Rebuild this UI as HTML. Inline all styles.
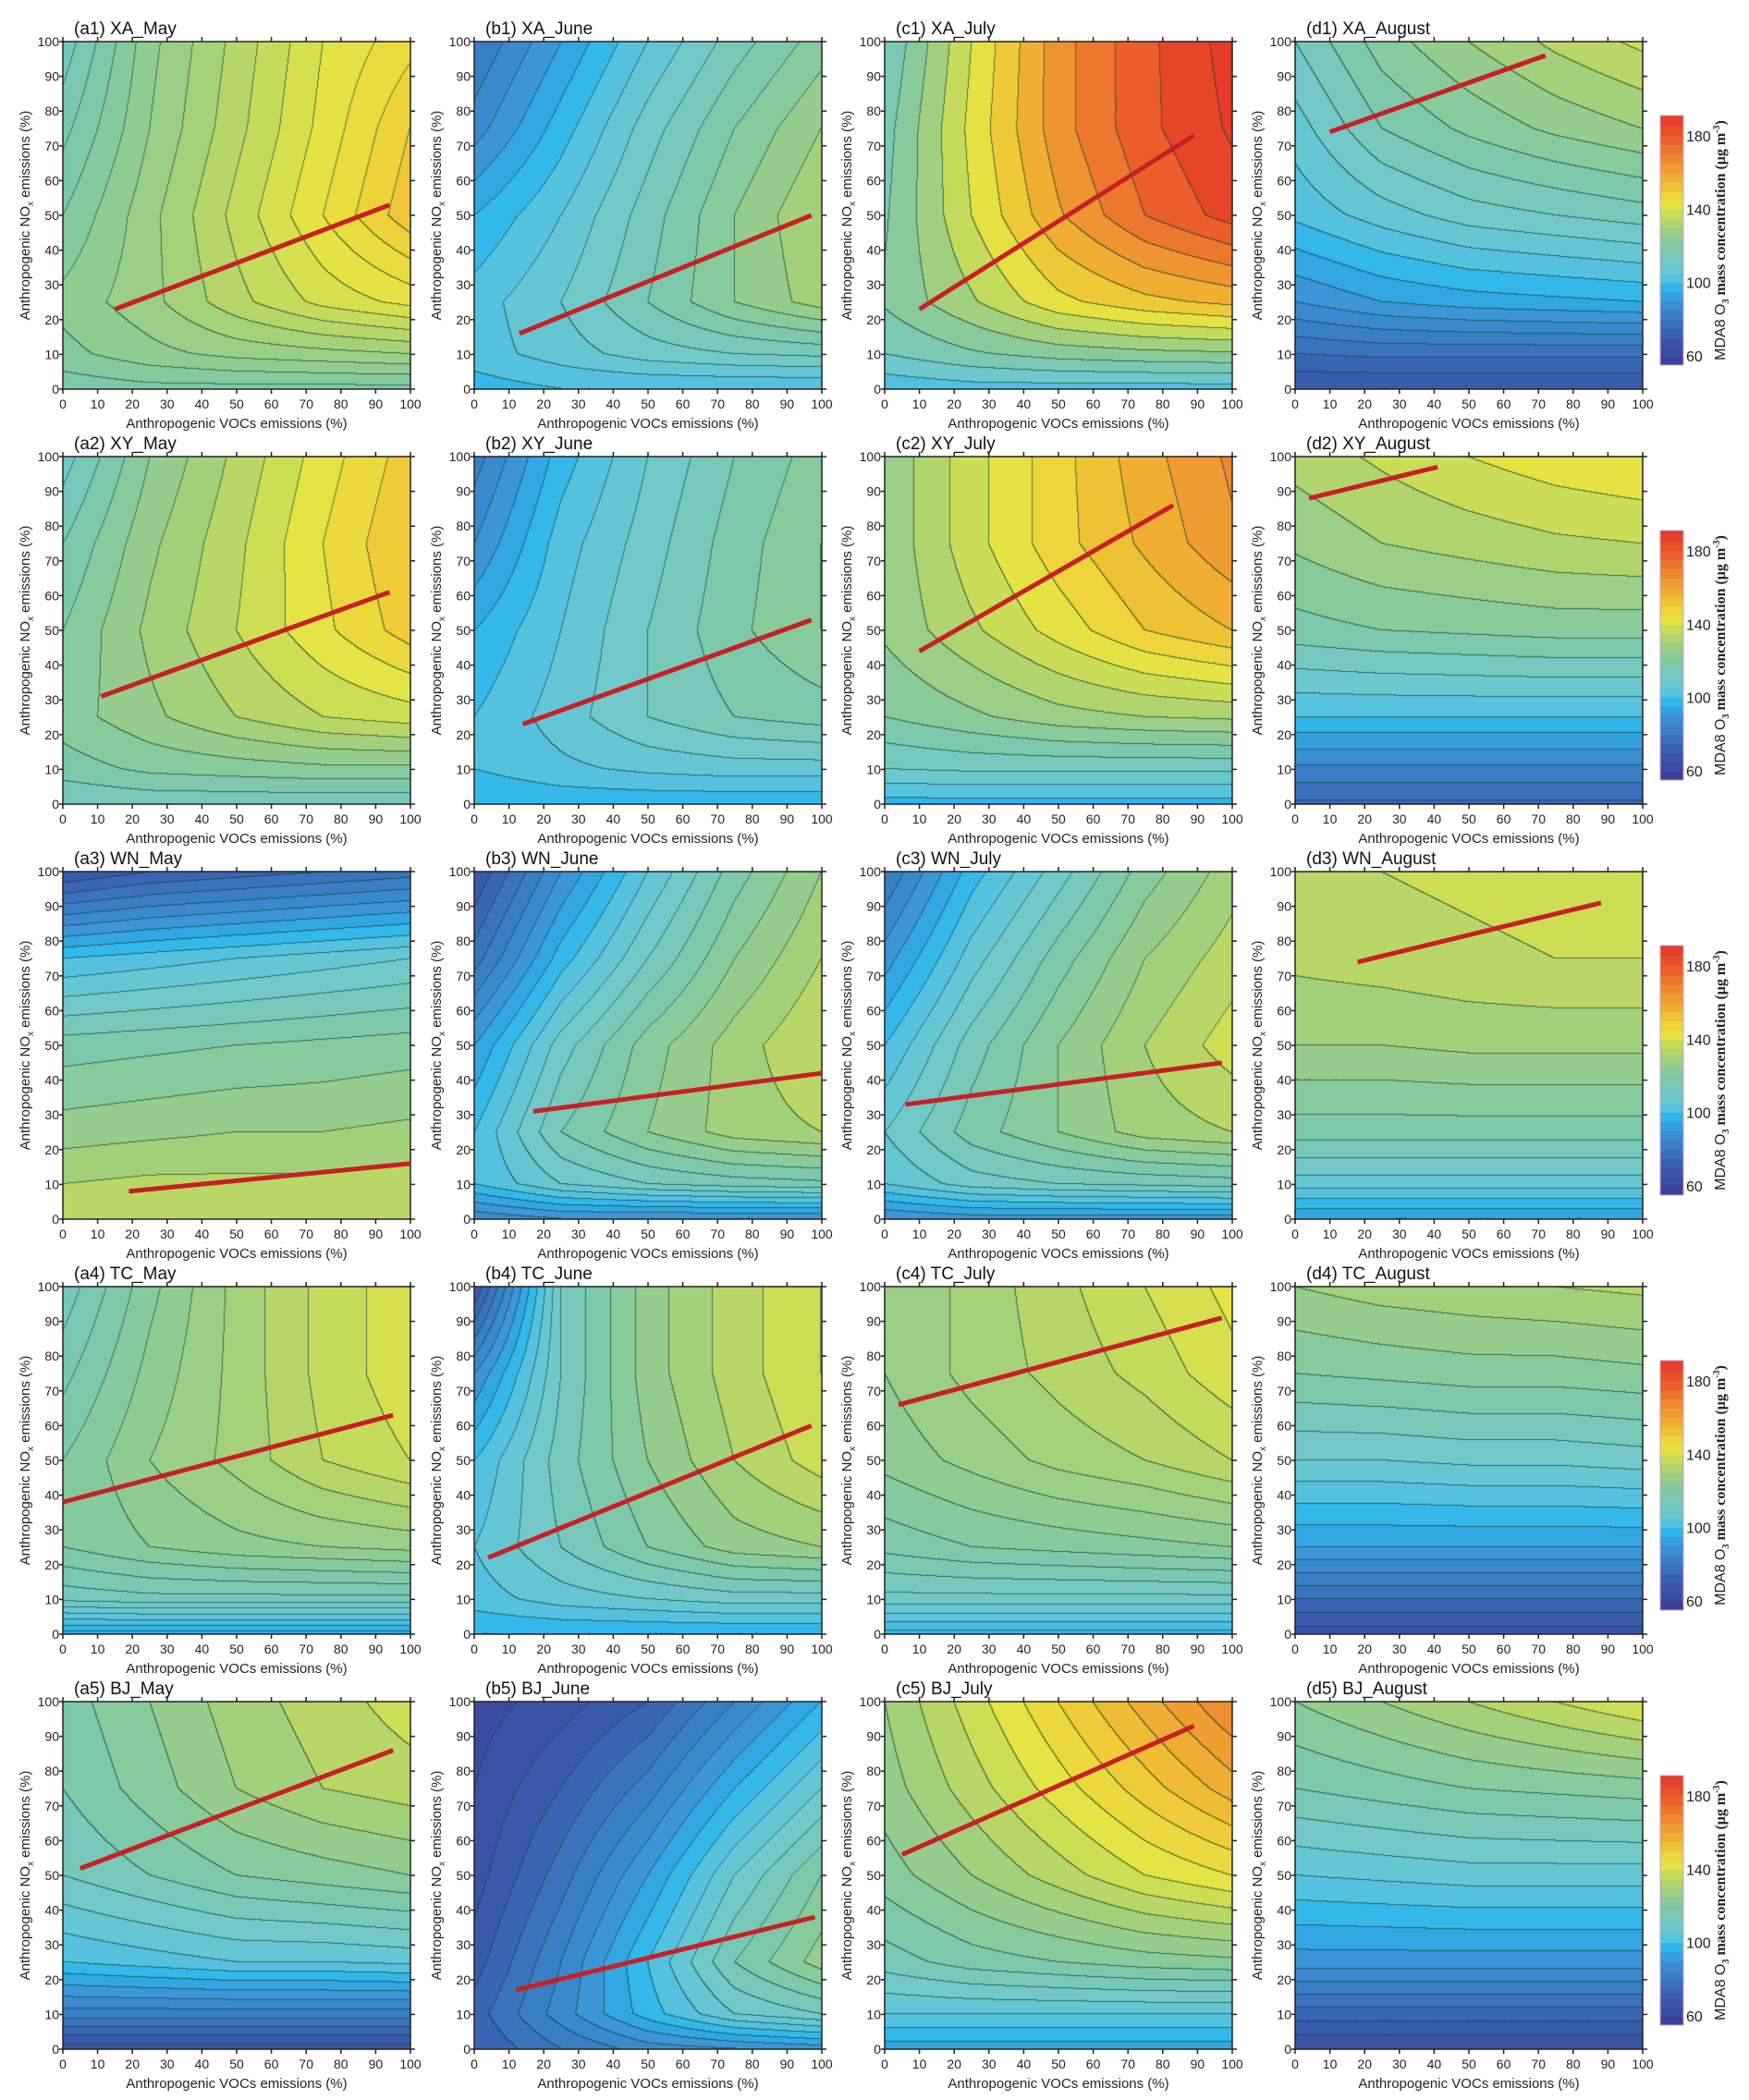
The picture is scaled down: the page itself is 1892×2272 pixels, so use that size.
<!DOCTYPE html>
<html><head><meta charset="utf-8"><style>
html,body{margin:0;padding:0;background:#fff;}
#wrap{position:relative;width:1892px;height:2272px;overflow:hidden;font-family:"Liberation Sans",sans-serif;}
canvas{position:absolute;}
svg{position:absolute;left:0;top:0;}
</style></head><body>
<div id="wrap"></div>
<script>
// ---- data ----
const panelTitles=["(a1) XA_May","(b1) XA_June","(c1) XA_July","(d1) XA_August",
"(a2) XY_May","(b2) XY_June","(c2) XY_July","(d2) XY_August",
"(a3) WN_May","(b3) WN_June","(c3) WN_July","(d3) WN_August",
"(a4) TC_May","(b4) TC_June","(c4) TC_July","(d4) TC_August",
"(a5) BJ_May","(b5) BJ_June","(c5) BJ_July","(d5) BJ_August"];
const vocGrid=[0,25,50,75,100];
const noxGridTopDown=[100,75,50,25,10,0];
// grids: rows n=100,75,50,25,10,0 ; cols v=0,25,50,75,100
const a1=[[112,125,133,141,146],[116,126,134,142,150],[120,128,136,144,152],[124,128,134,139,142],[122,125,127,128,129],[118,119,119,119,119]];
const b1=[[80,92,104,114,122],[86,98,110,120,128],[96,104,114,124,132],[102,108,116,124,130],[102,106,110,112,113],[98,100,100,100,100]];
const c1=[[112,140,165,180,192],[116,142,165,180,190],[118,140,160,175,185],[120,132,145,152,156],[112,118,122,124,125],[100,102,102,102,102]];
const d1=[[112,122,128,133,137],[106,116,121,125,128],[101,106,110,112,114],[88,92,94,95,96],[76,77,77,77,77],[68,68,68,68,68]];
const a2=[[110,124,133,142,150],[116,127,135,144,152],[120,129,136,143,150],[122,127,132,136,138],[118,121,122,123,123],[112,113,113,113,113]];
const b2=[[82,98,108,116,122],[88,102,110,118,124],[96,104,112,119,124],[100,106,112,116,118],[100,103,105,106,106],[96,97,97,97,97]];
const c2=[[126,138,148,158,166],[126,138,148,156,164],[126,134,142,150,155],[120,124,128,130,131],[110,111,111,111,111],[98,98,98,98,98]];
const d2=[[132,136,140,143,145],[126,130,132,134,135],[118,120,121,122,122],[100,100,100,100,100],[84,84,84,84,84],[74,74,74,74,74]];
const a3=[[68,72,74,76,78],[100,102,104,106,108],[118,119,120,121,122],[126,127,128,128,129],[132,133,133,133,134],[134,134,135,135,135]];
const b3=[[68,88,104,118,128],[78,98,112,124,132],[92,110,122,130,136],[100,116,124,130,132],[100,108,112,114,115],[85,88,88,88,88]];
const c3=[[80,98,110,122,130],[90,106,118,128,134],[100,114,124,132,138],[108,118,124,130,132],[104,110,112,113,114],[88,90,90,90,90]];
const d3=[[134,136,137,138,138],[133,134,135,136,136],[128,128,129,129,129],[118,118,118,118,118],[106,106,106,106,106],[92,92,92,92,92]];
const a4=[[112,122,130,136,140],[116,124,130,136,140],[120,126,130,135,138],[120,123,125,126,127],[112,113,113,113,113],[95,95,95,95,95]];
const b4=[[68,112,126,134,140],[88,112,126,134,140],[100,114,124,132,138],[104,112,120,126,128],[102,106,108,110,110],[96,96,96,96,96]];
const c4=[[126,130,134,138,142],[126,130,133,136,140],[124,127,130,132,135],[118,120,121,122,123],[110,110,110,110,110],[98,98,98,98,98]];
const d4=[[128,130,131,132,133],[120,121,122,122,123],[108,108,109,109,110],[92,92,92,92,92],[76,76,76,76,76],[66,66,66,66,66]];
const a5=[[118,124,130,134,138],[116,122,128,132,134],[112,116,120,122,124],[100,102,104,104,105],[82,82,82,82,82],[66,66,66,66,66]];
const b5=[[62,66,72,84,96],[64,72,82,96,108],[66,78,92,108,120],[70,84,100,116,126],[74,86,98,108,112],[72,80,86,88,90]];
const c5=[[128,138,148,158,168],[126,134,142,150,158],[122,128,134,140,144],[114,118,120,122,123],[104,104,104,104,104],[94,94,94,94,94]];
const d5=[[124,128,132,136,140],[116,118,120,121,122],[104,105,106,106,106],[90,90,90,90,90],[74,74,74,74,74],[64,64,64,64,64]];
const grids=[a1,b1,c1,d1,a2,b2,c2,d2,a3,b3,c3,d3,a4,b4,c4,d4,a5,b5,c5,d5];
const bandSteps=[3,4,7,4,4,4,5,5,4,4,4,4,3,4,3,4,4,4,4,4];
// red ridge lines [v1,n1,v2,n2], null = none
const ridgeLines=[[15,23,94,53],[13,16,97,50],[10,23,89,73],[10,74,72,96],
[11,31,94,61],[14,23,97,53],[10,44,83,86],[4,88,41,97],
[19,8,100,16],[17,31,100,42],[6,33,97,45],[18,74,88,91],
[0,38,95,63],[4,22,97,60],[4,66,97,91],null,
[5,52,95,86],[12,17,98,38],[5,56,89,93],null];
const axisTicks=[0,10,20,30,40,50,60,70,80,90,100];
const cbarTicks=[60,100,140,180];

// ---- layout ----
const colLeft=[68,513,957,1401], rowTop=[45,494,943,1392,1841];
const PW=376, PH=376;
const cbX=1796, cbW=25, cbTop0=125, cbH=270, cbMin=55, cbMax=191;
const stops=[[56,[59,63,152]],[70,[58,90,172]],[80,[58,120,192]],[90,[59,149,214]],[97,[43,181,236]],[103,[92,196,220]],[110,[114,200,200]],[120,[128,200,164]],[130,[164,208,124]],[137,[200,220,88]],[142,[228,228,68]],[148,[238,212,58]],[155,[240,184,52]],[165,[238,146,48]],[175,[236,106,44]],[189,[230,58,42]]];
function cmap(v){
  if(v<=stops[0][0])return stops[0][1];
  for(let i=1;i<stops.length;i++){if(v<=stops[i][0]){const a=stops[i-1],b=stops[i];const t=(v-a[0])/(b[0]-a[0]);return [0,1,2].map(k=>a[1][k]+(b[1][k]-a[1][k])*t);}}
  return stops[stops.length-1][1];
}
const nGrid=noxGridTopDown.slice().reverse();
function interp(g,v,n){
  const rows=g.slice().reverse();
  let i=0;while(i<vocGrid.length-2&&v>vocGrid[i+1])i++;
  let j=0;while(j<nGrid.length-2&&n>nGrid[j+1])j++;
  const tx=(v-vocGrid[i])/(vocGrid[i+1]-vocGrid[i]),ty=(n-nGrid[j])/(nGrid[j+1]-nGrid[j]);
  const a=rows[j][i],b=rows[j][i+1],c=rows[j+1][i],d=rows[j+1][i+1];
  return a*(1-tx)*(1-ty)+b*tx*(1-ty)+c*(1-tx)*ty+d*tx*ty;
}
const wrap=document.getElementById('wrap');
const NS='http://www.w3.org/2000/svg';
grids.forEach((g,p)=>{
  const cx=colLeft[p%4], cy=rowTop[Math.floor(p/4)];
  const cv=document.createElement('canvas');
  
  
  cv.width=PW;cv.height=PH;cv.style.left=cx+'px';cv.style.top=cy+'px';
  wrap.appendChild(cv);
  const ctx=cv.getContext('2d');const img=ctx.createImageData(PW,PH);
  const st=bandSteps[p];const band=new Int32Array(PW*PH);
  for(let y=0;y<PH;y++){const n=100*(1-y/(PH-1));for(let x=0;x<PW;x++){const v=100*x/(PW-1);band[y*PW+x]=Math.floor(interp(g,v,n)/st);}}
  for(let y=0;y<PH;y++)for(let x=0;x<PW;x++){
    const k=y*PW+x,b=band[k];let col=cmap((b+0.5)*st);
    const edge=(x<PW-1&&band[k+1]!==b)||(y<PH-1&&band[k+PW]!==b);
    if(edge)col=[col[0]*0.35+10,col[1]*0.35+40,col[2]*0.35+30];
    img.data[k*4]=col[0];img.data[k*4+1]=col[1];img.data[k*4+2]=col[2];img.data[k*4+3]=255;
  }
  ctx.putImageData(img,0,0);
});
// colorbars
for(let r=0;r<5;r++){
  const cv=document.createElement('canvas');
  
  
  cv.width=cbW;cv.height=cbH;cv.style.left=cbX+'px';cv.style.top=(cbTop0+rowTop[r]-rowTop[0])+'px';
  wrap.appendChild(cv);
  const ctx=cv.getContext('2d');
  for(let y=0;y<cbH;y++){const v=cbMax-(cbMax-cbMin)*y/cbH;const vb=Math.floor(v/5)*5+2.5;const c=cmap(vb);ctx.fillStyle=`rgb(${c[0]|0},${c[1]|0},${c[2]|0})`;ctx.fillRect(0,y,cbW,1);}
}
// svg overlay
const svg=document.createElementNS(NS,'svg');
svg.setAttribute('width',1892);svg.setAttribute('height',2272);

wrap.appendChild(svg);
function el(tag,attrs,text){const e=document.createElementNS(NS,tag);for(const k in attrs)e.setAttribute(k,attrs[k]);if(text!==undefined)e.textContent=text;svg.appendChild(e);return e;}
grids.forEach((g,p)=>{
  const cx=colLeft[p%4], cy=rowTop[Math.floor(p/4)];
  const sx=v=>cx+v/100*PW, sy=n=>cy+PH-n/100*PH;
  const fr=el('rect',{x:cx,y:cy,width:PW,height:PH,fill:'none',stroke:'#222','stroke-width':1.5});
  
  axisTicks.forEach(t=>{
    el('line',{x1:sx(t),x2:sx(t),y1:cy+PH,y2:cy+PH+5,stroke:'#222','stroke-width':1.5});
    el('line',{x1:sx(t),x2:sx(t),y1:cy,y2:cy-5,stroke:'#222','stroke-width':1.5});
    el('line',{x1:cx,x2:cx-4,y1:sy(t),y2:sy(t),stroke:'#222','stroke-width':1.5});
    el('line',{x1:cx+PW,x2:cx+PW+5,y1:sy(t),y2:sy(t),stroke:'#222','stroke-width':1.5});
    const xl=el('text',{x:sx(t),y:cy+PH+21,'font-size':14,'text-anchor':'middle',fill:'#222'},String(t));
    
    const yl=el('text',{x:cx-4,y:sy(t)+5,'font-size':14,'text-anchor':'end',fill:'#222'},String(t));
    
  });
  const xt=el('text',{x:cx+PW/2,y:cy+PH+42,'font-size':15,'text-anchor':'middle',fill:'#222'},'Anthropogenic VOCs emissions (%)');
  
  const yt=el('text',{x:0,y:0,'font-size':15,'text-anchor':'middle',fill:'#222',transform:`translate(${cx-36},${cy+PH/2}) rotate(-90)`});
  
  yt.innerHTML='Anthropogenic NO<tspan font-size="10" dy="4">x</tspan><tspan dy="-4"> emissions (%)</tspan>';
  const tt=el('text',{x:cx+12,y:cy-8,'font-size':19,fill:'#111'},panelTitles[p]);
  
  const L=ridgeLines[p];
  if(L){const ln=el('line',{x1:sx(L[0]),y1:sy(L[1]),x2:sx(L[2]),y2:sy(L[3]),stroke:'#c62026','stroke-width':5});
    }
});
for(let r=0;r<5;r++){
  const top=cbTop0+rowTop[r]-rowTop[0];
  el('rect',{x:cbX,y:top,width:cbW,height:cbH,fill:'none',stroke:'#c9a0d0','stroke-width':1});
  cbarTicks.forEach(t=>{const y=top+cbH-(t-cbMin)/(cbMax-cbMin)*cbH;
    const l=el('text',{x:cbX+cbW+3,y:y+6,'font-size':16,fill:'#222'},String(t));
    });
  const ct=el('text',{x:0,y:0,'font-size':16,'font-weight':'bold','font-family':'"Liberation Serif",serif','text-anchor':'middle',fill:'#222',transform:`translate(1866,${top+cbH/2}) rotate(-90)`});
  
  ct.innerHTML='<tspan font-family="Liberation Sans" font-weight="normal">MDA8 O</tspan><tspan font-size="10" dy="4">3</tspan><tspan dy="-4"> mass concentration (μg m</tspan><tspan font-size="10" dy="-6">-3</tspan><tspan dy="6">)</tspan>';
}
</script>
</body></html>
